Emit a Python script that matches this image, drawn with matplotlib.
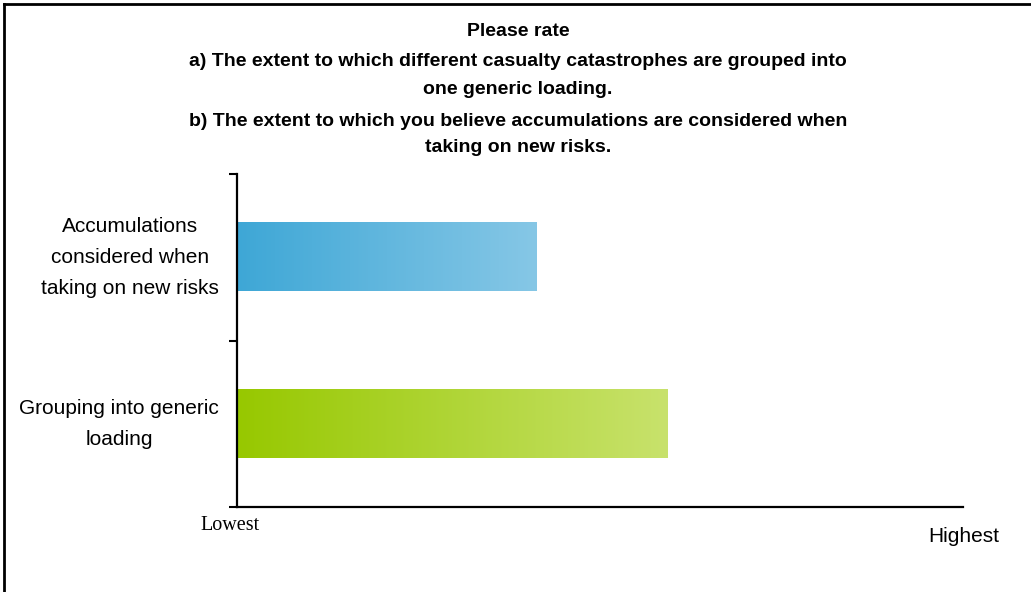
import numpy as np
import matplotlib
matplotlib.use("Agg")
from matplotlib import pyplot as plt
from matplotlib.colors import LinearSegmentedColormap
from matplotlib.lines import Line2D

# rating scale runs from 1 (Lowest) to 5 (Highest)
categories = ["Grouping into generic\nloading",
              "Accumulations\nconsidered when\ntaking on new risks"]
scores = [3.37, 2.65]
bar_colors = [("#97c800", "#c8e26c"), ("#3ea7d6", "#86c7e6")]
scale_min, scale_max = 1, 5
scale_labels = ["Lowest", "Highest"]

title_lines = [
    "Please rate",
    "a) The extent to which different casualty catastrophes are grouped into",
    "one generic loading.",
    "b) The extent to which you believe accumulations are considered when",
    "taking on new risks.",
]
title_y = [31, 61, 89, 121, 148]

W, H = 1031, 592
fig = plt.figure(figsize=(W / 100, H / 100), dpi=100)
ax = fig.add_axes([237 / W, 1 - 507 / H, (963 - 237) / W, (507 - 174) / H])

bar_h = 0.41
grad = np.linspace(0, 1, 256).reshape(1, -1)
for i, (val, (c0, c1)) in enumerate(zip(scores, bar_colors)):
    cmap = LinearSegmentedColormap.from_list("g%d" % i, [c0, c1])
    ax.imshow(grad, cmap=cmap, aspect="auto", interpolation="bicubic",
              extent=[scale_min, val, i - bar_h / 2, i + bar_h / 2], zorder=1)

ax.set_xlim(scale_min, scale_max)
ax.set_ylim(-0.5, 1.5)

for s in ["top", "right"]:
    ax.spines[s].set_visible(False)
ax.spines["left"].set_linewidth(1.6)
ax.spines["bottom"].set_linewidth(1.6)
ax.spines["left"].set_zorder(3)

ax.set_xticks([])
ax.set_yticks([-0.5, 0.5, 1.5])
ax.set_yticklabels([])
ax.tick_params(axis="y", length=6, width=1.5, direction="out")

for i, lab in enumerate(categories):
    ax.text(-0.025, i, lab, transform=ax.get_yaxis_transform(), ha="right",
            va="center", multialignment="center", fontsize=15,
            family="Liberation Sans", linespacing=1.8)

ax.text(230 / W, 1 - 525 / H, scale_labels[0], transform=fig.transFigure,
        ha="center", va="center", fontsize=14.5, family="Liberation Serif")
ax.text(964 / W, 1 - 536 / H, scale_labels[1], transform=fig.transFigure,
        ha="center", va="center", fontsize=15, family="Liberation Sans")

for line, y in zip(title_lines, title_y):
    fig.text(518 / W, 1 - y / H, line, ha="center", va="center",
             fontsize=14, fontweight="bold", family="Liberation Sans")

# border round the chart area
fig.add_artist(Line2D([4 / W, 4 / W], [0, 1 - 4 / H], transform=fig.transFigure,
                      color="black", lw=2))
fig.add_artist(Line2D([4 / W, 1], [1 - 4 / H, 1 - 4 / H], transform=fig.transFigure,
                      color="black", lw=2))

fig.savefig("out.png", dpi=100)
